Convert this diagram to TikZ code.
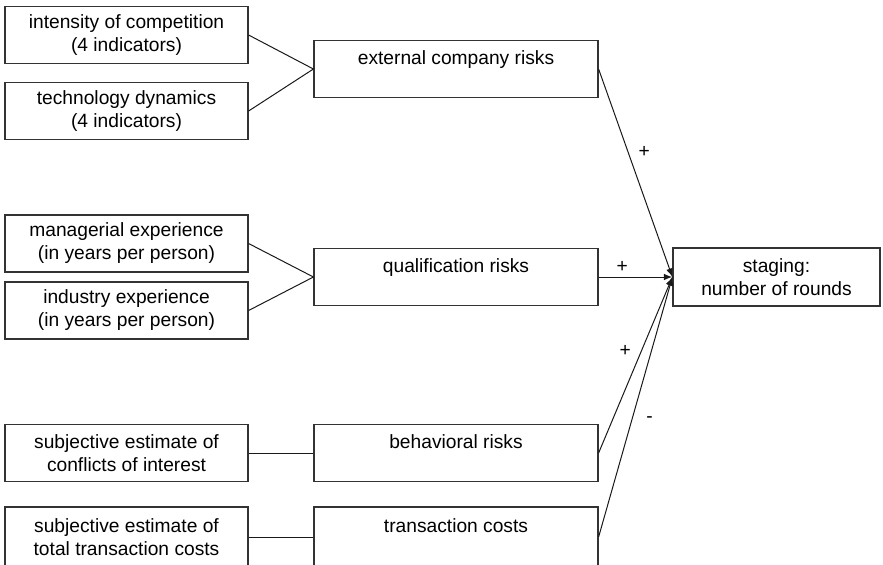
\documentclass[tikz,border=0pt]{standalone}
\usepackage{fontspec}
\setmainfont{Liberation Sans}
\usetikzlibrary{arrows}

\begin{document}
\begin{tikzpicture}[x=0.5pt,y=-0.5pt,font=\fontsize{9.6}{11.5}\selectfont]
\tikzstyle{source} = [rectangle, draw=black!80, line width=0.6pt, minimum width=121.5pt, minimum height=28.5pt, inner sep=0pt, align=center]
\tikzstyle{factor} = [source, minimum width=142pt]
\tikzstyle{target} = [source, minimum width=103.5pt, minimum height=29pt]
\tikzstyle{edge} = [draw=black!90, line width=0.5pt]
\tikzstyle{effect} = [edge, -latex]
\tikzstyle{sign} = [inner sep=1pt]

\useasboundingbox (0,0) rectangle (883,564);

\node[source] (comp) at (126.5,35) {intensity of competition\\(4 indicators)};
\node[source] (tech) at (126.5,111) {technology dynamics\\(4 indicators)};
\node[factor] (ext) at (456,69) {external company risks\\~};

\node[source] (mgr) at (126.5,243.5) {managerial experience\\(in years per person)};
\node[source] (ind) at (126.5,310.5) {industry experience\\(in years per person)};
\node[factor] (qual) at (456,277) {qualification risks\\~};

\node[source] (conf) at (126.5,453) {subjective estimate of\\conflicts of interest};
\node[factor] (beh) at (456,453) {behavioral risks\\~};

\node[source, minimum height=30pt] (cost) at (126.5,537) {subjective estimate of\\total transaction costs};
\node[factor, minimum height=30pt] (tc) at (456,537) {transaction costs\\~};

\node[target] (stag) at (776.5,277) {staging:\\number of rounds};

\draw[edge] (comp.east) -- (ext.west);
\draw[edge] (tech.east) -- (ext.west);
\draw[edge] (mgr.east) -- (qual.west);
\draw[edge] (ind.east) -- (qual.west);
\draw[edge] (conf) -- (beh);
\draw[edge] (cost) -- (tc);

\draw[effect] (ext.east) to node[sign, pos=0.4, right=4pt]{+} (stag.west);
\draw[effect] (qual.east) to node[sign, pos=0.32, above=1pt]{+} (stag.west);
\draw[effect] (beh.east) to node[sign, pos=0.58, left=4pt]{+} (stag.west);
\draw[effect] (tc.east) to node[sign, pos=0.45, right=6pt]{-} (stag.west);
\end{tikzpicture}
\end{document}
